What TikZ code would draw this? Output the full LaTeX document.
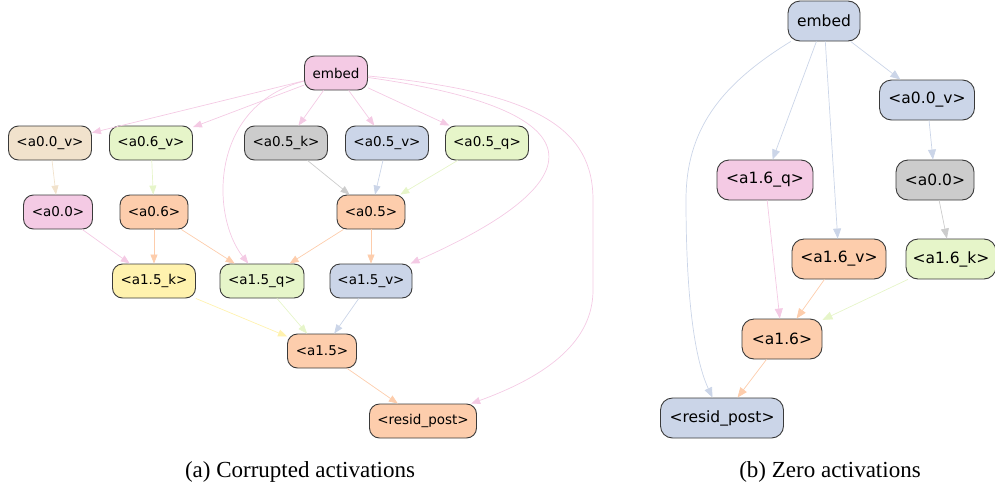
\documentclass[tikz,border=0pt]{standalone}
\usepackage{fontspec}
\setmainfont{Liberation Serif}
\newfontfamily\nodefont{DejaVu Sans}
\newfontfamily\capfont{Liberation Serif}
\usetikzlibrary{arrows.meta}
\definecolor{cpink}{HTML}{F4CAE4}
\definecolor{ctan}{HTML}{F1E2CC}
\definecolor{cgreen}{HTML}{E6F5C9}
\definecolor{cgray}{HTML}{CCCCCC}
\definecolor{cblue}{HTML}{CBD5E8}
\definecolor{corange}{HTML}{FDCDAC}
\definecolor{cyellow}{HTML}{FFF2AE}
\definecolor{cborder}{HTML}{3A3A3A}
\begin{document}
\begin{tikzpicture}[x=1pt,y=-1pt,
  gnode/.style={draw=cborder, line width=0.9pt, rounded corners=10pt,
    minimum height=34pt, inner sep=2pt, font=\nodefont\fontsize{13.5}{16}\selectfont},
  rnode/.style={gnode, rounded corners=12pt, minimum height=40pt,
    font=\nodefont\fontsize{15.5}{18}\selectfont},
  ce/.style={line width=0.7pt, draw=#1, -{Triangle[length=9pt,width=7pt]}},
  rce/.style={line width=0.7pt, draw=#1, -{Triangle[length=10pt,width=8pt]}},
  captxt/.style={font=\capfont\fontsize{23}{26}\selectfont, anchor=base, inner sep=0pt}
 ]
\useasboundingbox (0,0) rectangle (995,482);

% ---------- (a) Corrupted activations ----------
\node[gnode, fill=cpink, minimum width=63pt] (Lembed) at (336,73) {embed};
\node[gnode, fill=ctan, minimum width=83pt] (La00v) at (50,143) {<a0.0\_v>};
\node[gnode, fill=cgreen, minimum width=83pt] (La06v) at (151,143) {<a0.6\_v>};
\node[gnode, fill=cgray, minimum width=83pt] (La05k) at (286,143) {<a0.5\_k>};
\node[gnode, fill=cblue, minimum width=83pt] (La05v) at (387,143) {<a0.5\_v>};
\node[gnode, fill=cgreen, minimum width=83pt] (La05q) at (487,143) {<a0.5\_q>};
\node[gnode, fill=cpink, minimum width=69pt] (La00) at (58,212) {<a0.0>};
\node[gnode, fill=corange, minimum width=68pt] (La06) at (154,212) {<a0.6>};
\node[gnode, fill=corange, minimum width=68pt] (La05) at (371,212) {<a0.5>};
\node[gnode, fill=cyellow, minimum width=83pt] (La15k) at (154,281) {<a1.5\_k>};
\node[gnode, fill=cgreen, minimum width=84pt] (La15q) at (262,281) {<a1.5\_q>};
\node[gnode, fill=cblue, minimum width=82pt] (La15v) at (371,281) {<a1.5\_v>};
\node[gnode, fill=corange, minimum width=69pt] (La15) at (322,351) {<a1.5>};
\node[gnode, fill=corange, minimum width=107pt] (Lres) at (423,421) {<resid\_post>};

\draw[ce=cpink] (Lembed) -- (La00v);
\draw[ce=cpink] (Lembed) -- (La06v);
\draw[ce=cpink] (Lembed) -- (La05k);
\draw[ce=cpink] (Lembed) -- (La05v);
\draw[ce=cpink] (Lembed) -- (La05q);
\draw[ce=cpink] (Lembed) .. controls (210,105) and (210,215) .. (La15q);
\draw[ce=cpink] (Lembed) .. controls (600,110) and (600,180) .. (La15v);
\draw[ce=cpink] (Lembed) .. controls (540,92) and (593,130) .. (593,200)
   -- (593,290) .. controls (593,340) and (550,375) .. (Lres);
\draw[ce=ctan] (La00v) -- (La00);
\draw[ce=cgreen] (La06v) -- (La06);
\draw[ce=cpink] (La00) -- (La15k);
\draw[ce=corange] (La06) -- (La15k);
\draw[ce=corange] (La06) -- (La15q);
\draw[ce=cgray] (La05k) -- (La05);
\draw[ce=cblue] (La05v) -- (La05);
\draw[ce=cgreen] (La05q) -- (La05);
\draw[ce=corange] (La05) -- (La15q);
\draw[ce=corange] (La05) -- (La15v);
\draw[ce=cyellow] (La15k) -- (La15);
\draw[ce=cgreen] (La15q) -- (La15);
\draw[ce=cblue] (La15v) -- (La15);
\draw[ce=corange] (La15) -- (Lres);

\node[captxt] (capa) at (300,477) {(a) Corrupted activations};

% ---------- (b) Zero activations ----------
\node[rnode, fill=cblue, minimum width=72pt] (Rembed) at (824,21) {embed};
\node[rnode, fill=cblue, minimum width=95pt] (Ra00v) at (927,100) {<a0.0\_v>};
\node[rnode, fill=cpink, minimum width=96pt] (Ra16q) at (765,180) {<a1.6\_q>};
\node[rnode, fill=cgray, minimum width=78pt] (Ra00) at (935,180) {<a0.0>};
\node[rnode, fill=corange, minimum width=94pt] (Ra16v) at (839,259) {<a1.6\_v>};
\node[rnode, fill=cgreen, minimum width=90pt] (Ra16k) at (951,259) {<a1.6\_k>};
\node[rnode, fill=corange, minimum width=80pt] (Ra16) at (782,339) {<a1.6>};
\node[rnode, fill=cblue, minimum width=123pt] (Rres) at (722,418) {<resid\_post>};

\draw[rce=cblue] (Rembed) -- (Ra00v);
\draw[rce=cblue] (Rembed) -- (Ra16q);
\draw[rce=cblue] (Rembed) -- (Ra16v);
\draw[rce=cblue] (Rembed) .. controls (720,85) and (686,130) .. (686,200)
   .. controls (686,300) and (695,360) .. (Rres);
\draw[rce=cblue] (Ra00v) -- (Ra00);
\draw[rce=cgray] (Ra00) -- (Ra16k);
\draw[rce=cpink] (Ra16q) -- (Ra16);
\draw[rce=corange] (Ra16v) -- (Ra16);
\draw[rce=cgreen] (Ra16k) -- (Ra16);
\draw[rce=corange] (Ra16) -- (Rres);

\node[captxt] (capb) at (830,477) {(b) Zero activations};
\end{tikzpicture}
\end{document}
